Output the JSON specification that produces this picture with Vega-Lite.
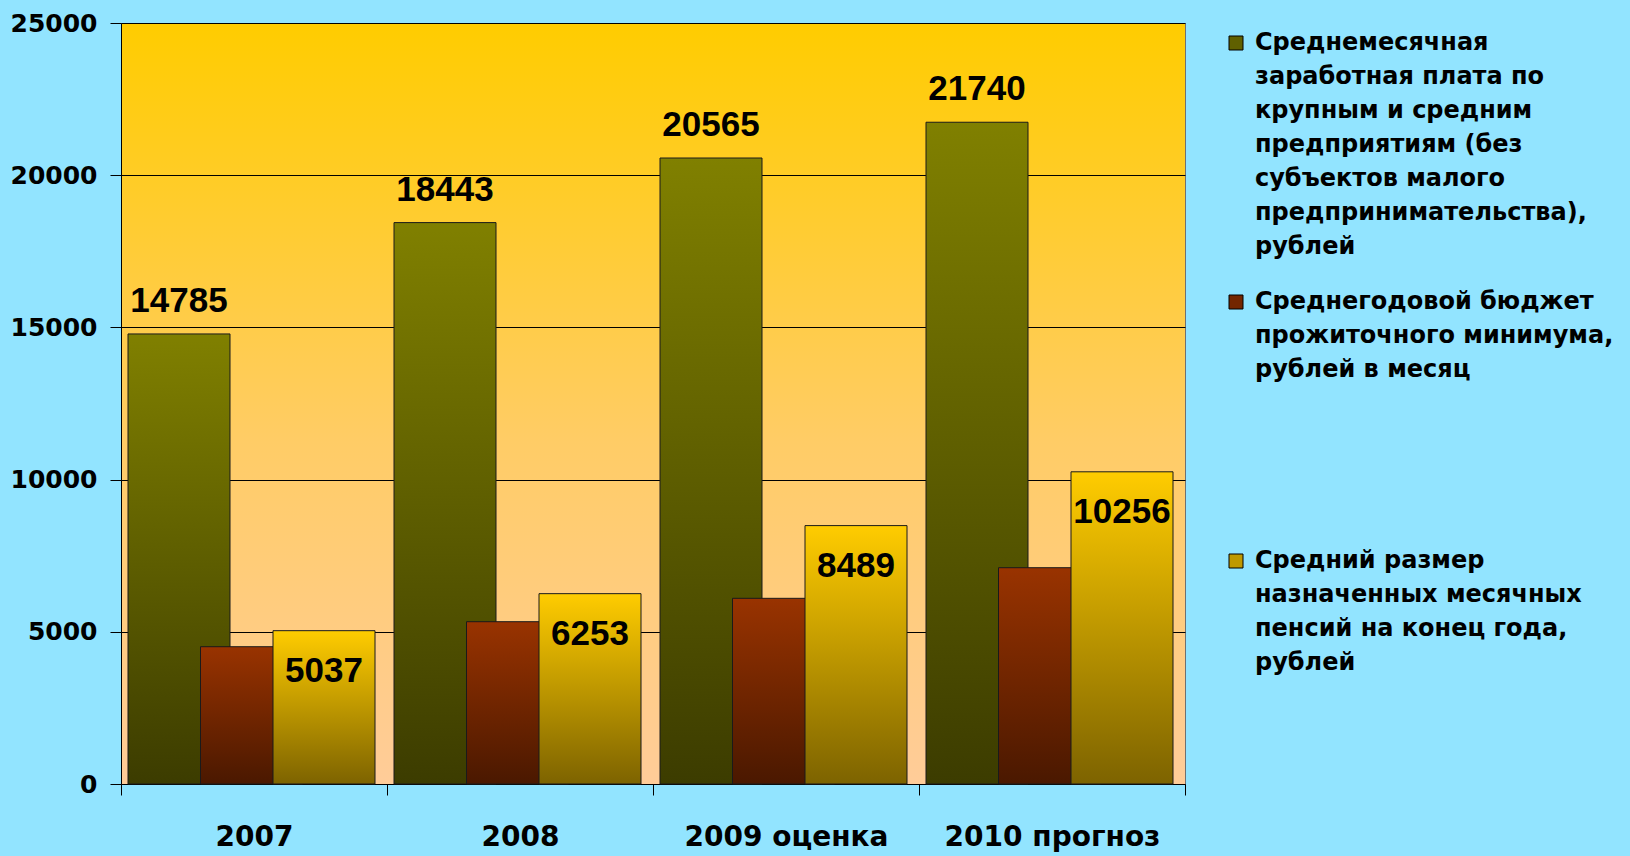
{
  "$schema": "https://vega.github.io/schema/vega-lite/v6.json",
  "autosize": "none",
  "width": 1064,
  "height": 761,
  "padding": {"left": 121, "top": 23, "right": 445, "bottom": 72},
  "background": "#92e4ff",
  "view": {
    "fill": {"gradient": "linear", "x1": 0, "y1": 0, "x2": 0, "y2": 1, "stops": [{"offset": 0, "color": "#ffcc00"}, {"offset": 0.55, "color": "#ffcc66"}, {"offset": 1, "color": "#ffcc99"}]},
    "stroke": "#707070",
    "strokeWidth": 1
  },
  "config": {
    "style": {"guide-label": {"lineHeight": 34}}
  },
  "data": {
    "values": [
      {"year": "2007", "series": "Среднемесячная|заработная плата по|крупным и средним|предприятиям (без|субъектов малого|предпринимательства),|рублей", "value": 14785},
      {"year": "2008", "series": "Среднемесячная|заработная плата по|крупным и средним|предприятиям (без|субъектов малого|предпринимательства),|рублей", "value": 18443},
      {"year": "2009 оценка", "series": "Среднемесячная|заработная плата по|крупным и средним|предприятиям (без|субъектов малого|предпринимательства),|рублей", "value": 20565},
      {"year": "2010 прогноз", "series": "Среднемесячная|заработная плата по|крупным и средним|предприятиям (без|субъектов малого|предпринимательства),|рублей", "value": 21740},
      {"year": "2007", "series": "Среднегодовой бюджет|прожиточного минимума,|рублей в месяц", "value": 4510},
      {"year": "2008", "series": "Среднегодовой бюджет|прожиточного минимума,|рублей в месяц", "value": 5332},
      {"year": "2009 оценка", "series": "Среднегодовой бюджет|прожиточного минимума,|рублей в месяц", "value": 6100},
      {"year": "2010 прогноз", "series": "Среднегодовой бюджет|прожиточного минимума,|рублей в месяц", "value": 7106},
      {"year": "2007", "series": "Средний размер|назначенных месячных|пенсий на конец года,|рублей", "value": 5037},
      {"year": "2008", "series": "Средний размер|назначенных месячных|пенсий на конец года,|рублей", "value": 6253},
      {"year": "2009 оценка", "series": "Средний размер|назначенных месячных|пенсий на конец года,|рублей", "value": 8489},
      {"year": "2010 прогноз", "series": "Средний размер|назначенных месячных|пенсий на конец года,|рублей", "value": 10256}
    ]
  },
  "encoding": {
    "x": {
      "field": "year", "type": "nominal", "sort": null,
      "scale": {"paddingInner": 0, "paddingOuter": 0},
      "axis": {
        "title": null, "labelAngle": 0, "tickBand": "extent", "labelLimit": 400,
        "labelFont": "DejaVu Sans", "labelFontWeight": "bold", "labelFontSize": 28, "labelColor": "#000000",
        "labelPadding": 28, "tickSize": 11, "tickColor": "#000000", "domainColor": "#000000", "grid": false
      }
    },
    "xOffset": {
      "field": "series", "type": "nominal",
      "scale": {
        "domain": [
          "Среднемесячная|заработная плата по|крупным и средним|предприятиям (без|субъектов малого|предпринимательства),|рублей",
          "Среднегодовой бюджет|прожиточного минимума,|рублей в месяц",
          "Средний размер|назначенных месячных|пенсий на конец года,|рублей"
        ],
        "paddingInner": 0, "paddingOuter": 0, "range": [21.75, 239.25]
      }
    },
    "y": {
      "field": "value", "type": "quantitative",
      "scale": {"domain": [0, 25000], "nice": false},
      "axis": {
        "title": null, "values": [0, 5000, 10000, 15000, 20000, 25000], "format": "d",
        "labelFont": "DejaVu Sans", "labelFontWeight": "bold", "labelFontSize": 25, "labelColor": "#000000",
        "labelPadding": 13, "tickSize": 11, "tickColor": "#000000", "domainColor": "#000000",
        "grid": true, "gridColor": "#000000", "gridOpacity": 1, "gridWidth": 1
      }
    }
  },
  "layer": [
    {
      "mark": {"type": "bar", "width": 102, "opacity": 0},
      "encoding": {
        "color": {
          "field": "series", "type": "nominal",
          "scale": {
            "domain": [
              "Среднемесячная|заработная плата по|крупным и средним|предприятиям (без|субъектов малого|предпринимательства),|рублей",
              "Среднегодовой бюджет|прожиточного минимума,|рублей в месяц",
              "Средний размер|назначенных месячных|пенсий на конец года,|рублей"
            ],
            "range": ["#606000", "#732600", "#bf9900"]
          },
          "legend": {
            "title": null, "orient": "none", "legendX": 1103, "legendY": 8,
            "labelExpr": "split(datum.label, '|')",
            "labelFont": "DejaVu Sans", "labelFontWeight": "bold", "labelFontSize": 24, "labelColor": "#000000",
            "labelLimit": 500, "labelOffset": 7, "labelBaseline": "top",
            "symbolType": "square", "symbolSize": 196, "symbolOpacity": 1, "symbolStrokeColor": "#000000", "symbolStrokeWidth": 1,
            "gridAlign": "all", "rowPadding": 31,
            "encode": {"labels": {"update": {"dy": {"value": -12}}}}
          }
        }
      }
    },
    {
      "transform": [{"filter": "indexof(datum.series, 'Среднемесячная') == 0"}],
      "mark": {"type": "bar", "width": 102, "stroke": "#1a1a1a", "strokeWidth": 1,
        "fill": {"gradient": "linear", "x1": 0, "y1": 0, "x2": 0, "y2": 1, "stops": [{"offset": 0, "color": "#808000"}, {"offset": 1, "color": "#3c3c00"}]}}
    },
    {
      "transform": [{"filter": "indexof(datum.series, 'Среднегодовой') == 0"}],
      "mark": {"type": "bar", "width": 102, "stroke": "#1a1a1a", "strokeWidth": 1,
        "fill": {"gradient": "linear", "x1": 0, "y1": 0, "x2": 0, "y2": 1, "stops": [{"offset": 0, "color": "#993300"}, {"offset": 1, "color": "#4a1800"}]}}
    },
    {
      "transform": [{"filter": "indexof(datum.series, 'Средний размер') == 0"}],
      "mark": {"type": "bar", "width": 102, "stroke": "#1a1a1a", "strokeWidth": 1,
        "fill": {"gradient": "linear", "x1": 0, "y1": 0, "x2": 0, "y2": 1, "stops": [{"offset": 0, "color": "#ffcc00"}, {"offset": 1, "color": "#7d6300"}]}}
    },
    {
      "transform": [{"filter": "indexof(datum.series, 'Среднемесячная') == 0"}],
      "mark": {"type": "text", "font": "Liberation Sans", "fontWeight": "bold", "fontSize": 35, "color": "#000000", "baseline": "alphabetic", "dy": -22},
      "encoding": {"text": {"field": "value", "type": "quantitative", "format": "d"}}
    },
    {
      "transform": [{"filter": "indexof(datum.series, 'Средний размер') == 0"}],
      "mark": {"type": "text", "font": "Liberation Sans", "fontWeight": "bold", "fontSize": 35, "color": "#000000", "baseline": "alphabetic", "dy": 51},
      "encoding": {"text": {"field": "value", "type": "quantitative", "format": "d"}}
    }
  ]
}
